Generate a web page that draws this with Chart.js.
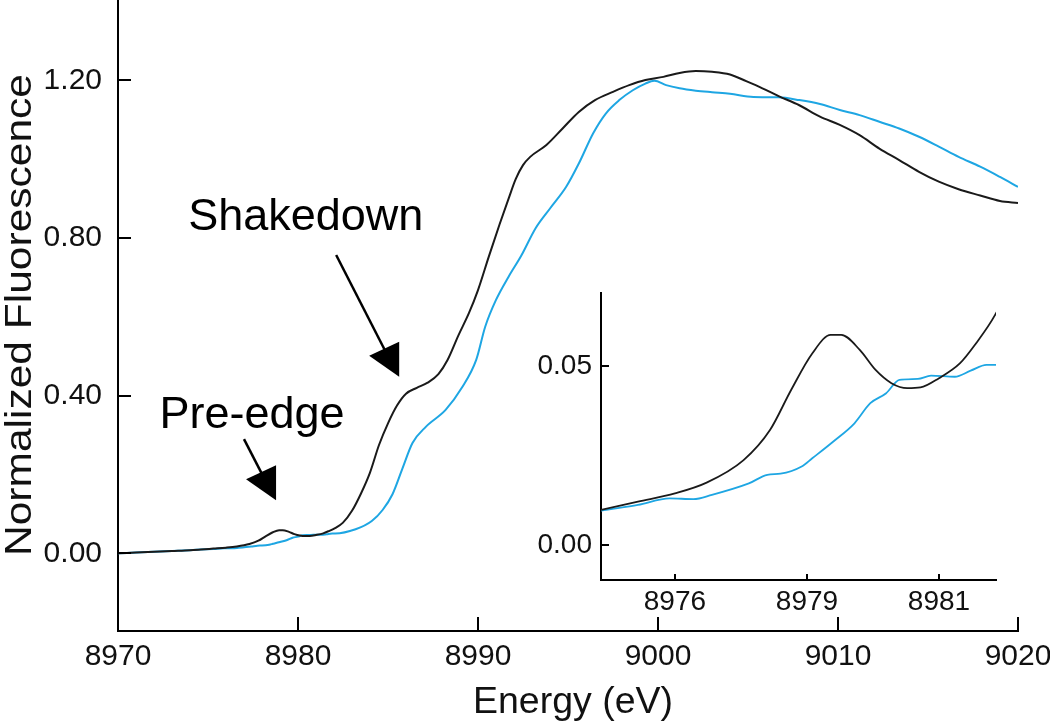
<!DOCTYPE html>
<html>
<head>
<meta charset="utf-8">
<script src="https://cdn.jsdelivr.net/npm/chart.js@4.4.0/dist/chart.umd.min.js"></script>
<style>
html,body{margin:0;padding:0;background:#fff;}
#wrap{position:relative;width:1050px;height:723px;overflow:hidden;}
#main{position:absolute;left:0;top:0;}
#inset{position:absolute;left:520px;top:283px;}
</style>
</head>
<body>
<div id="wrap">
<canvas id="main" width="1050" height="723"></canvas>
<canvas id="inset" width="500" height="340"></canvas>
</div>
<script>
// ---- Data ----
const energyBlack = [8970.0,8971.0,8972.0,8973.0,8974.0,8974.6,8975.3,8976.0,8976.6,8977.3,8977.8,8978.2,8978.6,8978.95,8979.15,8979.5,8979.8,8980.1,8980.4,8980.65,8981.0,8981.4,8981.7,8982.06,8982.5,8983.0,8983.5,8984.0,8984.5,8985.0,8985.5,8986.0,8986.6,8987.2,8987.8,8988.3,8988.9,8989.5,8990.0,8990.6,8991.2,8991.7,8992.1,8992.5,8992.9,8993.8,8994.7,8995.6,8996.5,8997.5,8998.4,8999.3,9000.3,9001.2,9002.1,9003.0,9004.0,9004.9,9005.8,9006.7,9007.85,9009.0,9010.1,9011.2,9012.3,9013.4,9014.5,9015.6,9016.7,9017.9,9019.0,9020.0];
const fluorBlack = [0.000,0.002,0.004,0.006,0.008,0.0098,0.0121,0.0144,0.0174,0.0237,0.0321,0.0433,0.0535,0.0587,0.0587,0.0545,0.0489,0.0452,0.0438,0.0440,0.0466,0.0508,0.0563,0.0642,0.078,0.108,0.152,0.205,0.275,0.330,0.375,0.405,0.420,0.433,0.455,0.490,0.552,0.610,0.668,0.753,0.835,0.900,0.950,0.985,1.006,1.036,1.078,1.120,1.150,1.171,1.188,1.201,1.209,1.219,1.224,1.222,1.215,1.198,1.180,1.160,1.137,1.108,1.087,1.061,1.027,0.998,0.968,0.943,0.924,0.908,0.894,0.889];

const energyBlue = [8970.0,8971.0,8972.0,8973.0,8974.0,8974.6,8975.3,8975.9,8976.35,8976.7,8977.4,8977.75,8978.0,8978.4,8978.6,8979.0,8979.4,8979.7,8980.0,8980.25,8980.6,8980.85,8981.3,8981.6,8981.9,8982.06,8983.2,8984.1,8984.7,8985.25,8985.8,8986.36,8987.1,8988.2,8989.1,8989.9,8990.4,8991.0,8991.7,8992.4,8993.2,8994.0,8994.9,8995.6,8996.4,8997.1,8997.85,8998.6,8999.3,8999.8,9000.45,9001.2,9002.1,9003.0,9004.0,9005.3,9006.7,9007.85,9009.0,9010.1,9011.2,9012.3,9013.4,9014.5,9015.6,9016.7,9017.9,9019.0,9020.0];
const fluorBlue = [0.000,0.002,0.004,0.006,0.008,0.0096,0.0112,0.0130,0.0128,0.0140,0.0172,0.0196,0.0199,0.0219,0.0242,0.0289,0.0340,0.0396,0.0424,0.0461,0.0464,0.0473,0.0470,0.0487,0.0503,0.0503,0.061,0.082,0.110,0.150,0.215,0.280,0.321,0.364,0.420,0.491,0.575,0.643,0.702,0.755,0.825,0.875,0.930,0.989,1.066,1.116,1.150,1.175,1.192,1.199,1.188,1.180,1.174,1.170,1.166,1.158,1.157,1.150,1.140,1.125,1.112,1.095,1.078,1.057,1.032,1.006,0.981,0.955,0.930];

const mainXTicks = [8970, 8980, 8990, 9000, 9010, 9020];
const mainYTicks = [0.00, 0.40, 0.80, 1.20];
const insetXTicks = [8976, 8978.5, 8981];
const insetYTicks = [0.00, 0.05];

const xTitle = 'Energy (eV)';
const yTitle = 'Normalized Fluorescence';
const noteLabels = ['Shakedown', 'Pre-edge'];

// ---- Styling / layout ----
const BLACK = '#1a1a1a';
const BLUE = '#1ea6e3';
const FONT = 'Arial, "Liberation Sans", Helvetica, sans-serif';

// annotation anchor points in data units (text left/baseline, arrow start, arrow tip)
const noteGeom = [
  {tx: 8973.9, ty: 0.820, sx: 8982.12, sy: 0.757, ex: 8985.62, ey: 0.448},
  {tx: 8972.3, ty: 0.318, sx: 8977.0,  sy: 0.290, ex: 8978.78, ey: 0.135}
];

function pts(xs, ys){ return xs.map((x,i)=>({x:x, y:ys[i]})); }

const innerTicks = {
  id: 'innerTicks',
  afterDraw(chart, args, opts){
    const {ctx, chartArea: a, scales: {x, y}} = chart;
    ctx.save();
    ctx.strokeStyle = '#000';
    ctx.lineWidth = 2;
    x.ticks.forEach(t => {
      const px = Math.round(x.getPixelForValue(t.value));
      ctx.beginPath(); ctx.moveTo(px, a.bottom); ctx.lineTo(px, a.bottom - opts.xLen); ctx.stroke();
    });
    y.ticks.forEach(t => {
      const py = Math.round(y.getPixelForValue(t.value));
      ctx.beginPath(); ctx.moveTo(a.left, py); ctx.lineTo(a.left + opts.yLen, py); ctx.stroke();
    });
    ctx.restore();
  }
};

const decorations = {
  id: 'decorations',
  afterDraw(chart){
    const {ctx, chartArea: a, scales: {x, y}} = chart;
    ctx.save();
    ctx.fillStyle = '#000';
    ctx.strokeStyle = '#000';
    // annotations
    ctx.font = '45px ' + FONT;
    ctx.textAlign = 'left';
    ctx.textBaseline = 'alphabetic';
    noteGeom.forEach((g, i) => {
      ctx.fillText(noteLabels[i], x.getPixelForValue(g.tx), y.getPixelForValue(g.ty));
      const x0 = x.getPixelForValue(g.sx), y0 = y.getPixelForValue(g.sy);
      const x1 = x.getPixelForValue(g.ex), y1 = y.getPixelForValue(g.ey);
      ctx.lineWidth = 2.5;
      ctx.beginPath(); ctx.moveTo(x0, y0); ctx.lineTo(x1 - 14, y1 - 26); ctx.stroke();
      ctx.beginPath();
      ctx.moveTo(x1, y1); ctx.lineTo(x1, y1 - 35); ctx.lineTo(x1 - 30, y1 - 21); ctx.closePath();
      ctx.fill();
    });
    // axis titles
    ctx.font = '36px ' + FONT;
    ctx.textAlign = 'center';
    ctx.fillStyle = '#111';
    let w = ctx.measureText(xTitle).width;
    ctx.save();
    ctx.translate((a.left + a.right) / 2 + 5, 713);
    ctx.scale(200 / w, 1);
    ctx.fillText(xTitle, 0, 0);
    ctx.restore();
    w = ctx.measureText(yTitle).width;
    ctx.save();
    ctx.translate(31, 315);
    ctx.rotate(-Math.PI / 2);
    ctx.scale(482 / w, 1);
    ctx.fillText(yTitle, 0, 0);
    ctx.restore();
    ctx.restore();
  }
};

function axisX(min, max, ticks, fmt, height, pad, fs){
  return {
    type: 'linear', min: min, max: max,
    afterBuildTicks: s => { s.ticks = ticks.map(v => ({value: v})); },
    afterFit: s => { s.height = height; s.paddingLeft = 0; s.paddingRight = 0; },
    ticks: {callback: fmt, autoSkip: false, maxRotation: 0, padding: pad, color: '#111', font: {family: FONT, size: fs}},
    grid: {drawOnChartArea: false, drawTicks: false},
    border: {display: true, color: '#000', width: 2}
  };
}
function axisY(min, max, ticks, fmt, width, pad, fs){
  return {
    type: 'linear', min: min, max: max,
    afterBuildTicks: s => { s.ticks = ticks.map(v => ({value: v})); },
    afterFit: s => { s.width = width; s.paddingTop = 0; s.paddingBottom = 0; },
    ticks: {callback: fmt, autoSkip: false, padding: pad, color: '#111', font: {family: FONT, size: fs}},
    grid: {drawOnChartArea: false, drawTicks: false},
    border: {display: true, color: '#000', width: 2}
  };
}

function datasets(w){
  return [
    {data: pts(energyBlack, fluorBlack), borderColor: BLACK, borderWidth: w, pointRadius: 0, cubicInterpolationMode: 'monotone', fill: false},
    {data: pts(energyBlue, fluorBlue), borderColor: BLUE, borderWidth: w, pointRadius: 0, cubicInterpolationMode: 'monotone', fill: false}
  ];
}

const common = {
  responsive: false, animation: false, devicePixelRatio: 1,
  parsing: false,
  plugins: {legend: {display: false}, tooltip: {enabled: false}, title: {display: false}}
};

new Chart(document.getElementById('main'), {
  type: 'line',
  data: {datasets: datasets(2)},
  options: Object.assign({}, common, {
    layout: {padding: {left: 0, top: 0, right: 32, bottom: 0}},
    scales: {
      x: axisX(8970, 9020, mainXTicks, v => String(v), 92, 8, 30),
      y: axisY(-0.197, 1.404, mainYTicks, v => Number(v).toFixed(2), 118, 16, 30)
    },
    plugins: Object.assign({}, common.plugins, {innerTicks: {xLen: 14, yLen: 13}})
  }),
  plugins: [innerTicks, decorations]
});

new Chart(document.getElementById('inset'), {
  type: 'line',
  data: {datasets: datasets(1.8)},
  options: Object.assign({}, common, {
    layout: {padding: {left: 0, top: 10, right: 24, bottom: 0}},
    scales: {
      x: axisX(8974.6, 8982.08, insetXTicks, v => String(Math.round(v)), 43, 5, 28),
      y: axisY(-0.0098, 0.0704, insetYTicks, v => Number(v).toFixed(2), 81, 9, 28)
    },
    plugins: Object.assign({}, common.plugins, {innerTicks: {xLen: 6, yLen: 8}})
  }),
  plugins: [innerTicks]
});
</script>
</body>
</html>
